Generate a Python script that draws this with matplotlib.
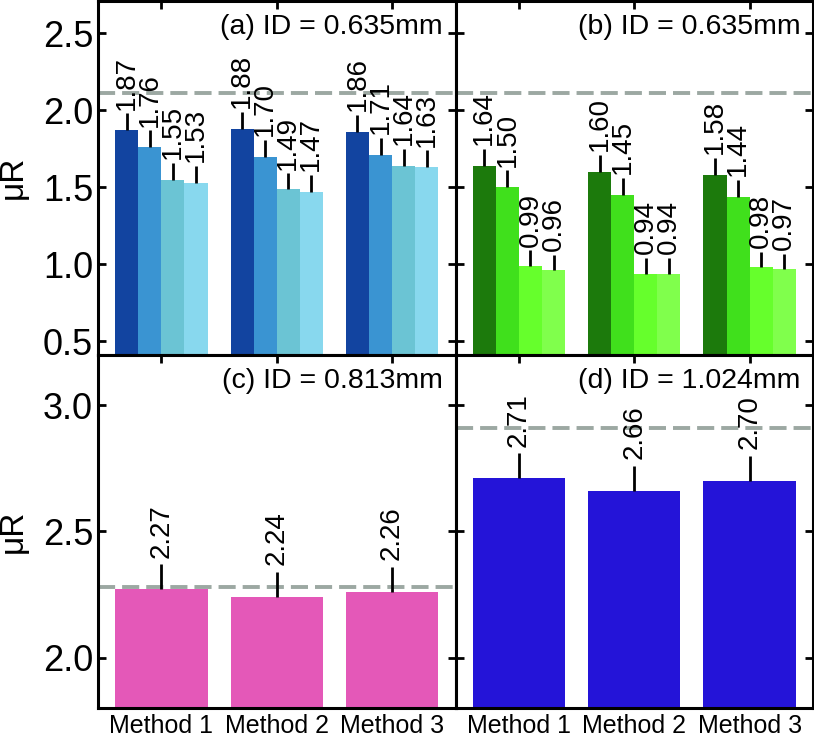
import numpy as np
import matplotlib
matplotlib.use('Agg')
import matplotlib.pyplot as plt

plt.rcParams['font.family'] = ['Liberation Sans', 'DejaVu Sans']

methods = ['Method 1', 'Method 2', 'Method 3']

# (a) ID = 0.635mm, four series per method
a_vals = [[1.87, 1.88, 1.86],
          [1.76, 1.70, 1.71],
          [1.55, 1.49, 1.64],
          [1.53, 1.47, 1.63]]
a_err = [[0.11, 0.11, 0.11],
         [0.11, 0.11, 0.11],
         [0.11, 0.10, 0.11],
         [0.11, 0.11, 0.11]]

# (b) ID = 0.635mm
b_vals = [[1.64, 1.60, 1.58],
          [1.50, 1.45, 1.44],
          [0.99, 0.94, 0.98],
          [0.96, 0.94, 0.97]]
b_err = [[0.11, 0.11, 0.11],
         [0.11, 0.11, 0.11],
         [0.10, 0.10, 0.10],
         [0.10, 0.10, 0.10]]

# (c) ID = 0.813mm
c_vals = [[2.27, 2.24, 2.26]]
c_err = [[0.10, 0.10, 0.10]]

# (d) ID = 1.024mm
d_vals = [[2.71, 2.66, 2.70]]
d_err = [[0.10, 0.10, 0.10]]

ref_lines = [2.115, 2.115, 2.28, 2.91]
titles = ['(a) ID = 0.635mm', '(b) ID = 0.635mm', '(c) ID = 0.813mm', '(d) ID = 1.024mm']

blues = ['#1244A0', '#3A94D2', '#6BC4D4', '#88D8EE']
greens = ['#1C7A0C', '#40E01C', '#66FF2C', '#80FF4C']
pink = ['#E458B8']
violet = ['#2414D8']


def draw_panel(ax, series, errs, colors, width):
    """Grouped bars with upward error bars and rotated value labels."""
    x = np.arange(len(methods))
    n = len(series)
    for i, (v, e, c) in enumerate(zip(series, errs, colors)):
        xs = x + (i - (n - 1) / 2) * width
        v = np.array(v)
        e = np.array(e)
        ax.bar(xs, v, width, color=c, zorder=2)
        ax.errorbar(xs, v, yerr=[np.zeros_like(e), e], fmt='none',
                    ecolor='k', elinewidth=2, capsize=0, zorder=3)
        for xi, vi, ei in zip(xs, v, e):
            ax.text(xi, vi + ei + 0.025, f'{vi:.2f}', rotation=90,
                    ha='center', va='bottom', fontsize=20, zorder=4)


fig, axes = plt.subplots(2, 2, figsize=(8.14, 7.35), dpi=100,
                         sharex=True, sharey='row',
                         gridspec_kw=dict(hspace=0, wspace=0))
fig.subplots_adjust(left=0.1204, right=0.9988, top=0.9986, bottom=0.0367)

draw_panel(axes[0, 0], a_vals, a_err, blues, 0.2)
draw_panel(axes[0, 1], b_vals, b_err, greens, 0.2)
draw_panel(axes[1, 0], c_vals, c_err, pink, 0.8)
draw_panel(axes[1, 1], d_vals, d_err, violet, 0.8)

for ax, ref, t in zip(axes.flat, ref_lines, titles):
    ax.axhline(ref, color='#9CA8A2', lw=2.8, ls=(0, (4.4, 1.8)), zorder=1.5)
    ax.text(0.965, 0.962, t, ha='right', va='top', fontsize=20.5,
            transform=ax.transAxes)
    ax.tick_params(direction='in', top=True, right=True, length=6, width=2,
                   labelsize=26)
    ax.tick_params(axis='x', labelsize=18, pad=4)
    for s in ax.spines.values():
        s.set_linewidth(2.2)

axes[0, 0].set_xlim(-0.55, 2.55)
axes[1, 0].set_xticks(np.arange(len(methods)))
axes[1, 0].set_xticklabels(methods)
axes[1, 1].set_xticklabels(methods)

axes[0, 0].set_ylim(0.414, 2.71)
axes[0, 0].set_yticks([0.5, 1.0, 1.5, 2.0, 2.5])
axes[1, 0].set_ylim(1.80, 3.20)
axes[1, 0].set_yticks([2.0, 2.5, 3.0])

for ax in axes[:, 0]:
    ax.set_ylabel('μR', fontsize=24)
    ax.yaxis.set_label_coords(-0.195, 0.5)

fig.savefig('out.png', dpi=100)
